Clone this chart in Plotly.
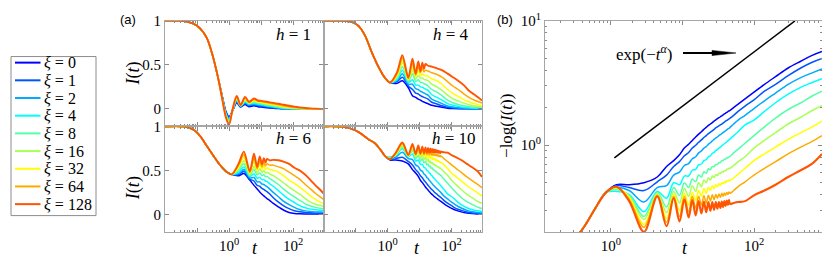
import math
import plotly.graph_objects as go

W, H = 830, 277

# ---------------- data ----------------
XI = [0, 1, 2, 4, 8, 16, 32, 64, 128]
COLORS = ['#0000ff', '#0055ff', '#00aaff', '#00ffff', '#55ffaa',
          '#aaff55', '#ffff00', '#ffaa00', '#ff5500']

# h = 1 : I(t).  The first values are common to every xi; rows below give one value per xi
T_H1 = [0.01, 0.03, 0.05, 0.08, 0.12, 0.2, 0.3, 0.45,
        0.6, 0.8, 1.0, 1.3, 1.74, 2.3, 3.16, 4.2, 6.0, 8.0, 10, 15, 24, 35,
        50, 75, 110, 160, 240, 350, 500, 890]
I_H1_SHARED = [1.0, 1.0, 0.99, 0.965, 0.92, 0.81, 0.62, 0.36]
I_H1_ROWS = [
    [0.16, 0.155, 0.15, 0.145, 0.14, 0.14, 0.135, 0.13, 0.13],
    [-0.03, -0.04, -0.05, -0.06, -0.07, -0.08, -0.085, -0.09, -0.10],
    [-0.09, -0.10, -0.11, -0.125, -0.14, -0.15, -0.16, -0.17, -0.18],
    [-0.02, -0.018, -0.015, -0.012, -0.01, -0.007, -0.005, -0.002, 0.0],
    [0.07, 0.08, 0.09, 0.10, 0.11, 0.12, 0.13, 0.14, 0.146],
    [0.02, 0.025, 0.03, 0.033, 0.036, 0.038, 0.04, 0.042, 0.044],
    [0.05, 0.06, 0.07, 0.08, 0.09, 0.10, 0.11, 0.125, 0.135],
    [0.025, 0.035, 0.045, 0.055, 0.06, 0.065, 0.07, 0.075, 0.08],
    [0.035, 0.045, 0.055, 0.065, 0.075, 0.085, 0.095, 0.105, 0.117],
    [0.025, 0.035, 0.045, 0.055, 0.065, 0.075, 0.08, 0.09, 0.095],
    [0.02, 0.03, 0.04, 0.05, 0.058, 0.066, 0.074, 0.082, 0.09],
    [0.012, 0.02, 0.028, 0.036, 0.045, 0.053, 0.062, 0.071, 0.08],
    [0.006, 0.011, 0.017, 0.024, 0.032, 0.04, 0.049, 0.058, 0.068],
    [0.003, 0.006, 0.01, 0.015, 0.021, 0.028, 0.037, 0.047, 0.058],
    [0.001, 0.003, 0.005, 0.008, 0.013, 0.019, 0.026, 0.036, 0.047],
    [0.0, 0.001, 0.002, 0.004, 0.007, 0.011, 0.017, 0.025, 0.035],
    [0.0, 0.0, 0.001, 0.002, 0.003, 0.006, 0.01, 0.016, 0.025],
    [0.0, 0.0, 0.0, 0.001, 0.002, 0.003, 0.006, 0.01, 0.017],
    [0.0, 0.0, 0.0, 0.0, 0.001, 0.002, 0.003, 0.005, 0.01],
    [0.0, 0.0, 0.0, 0.0, 0.0, 0.001, 0.001, 0.002, 0.005],
    [0.0, 0.0, 0.0, 0.0, 0.0, 0.0, 0.0, 0.001, 0.002],
    [0.0, 0.0, 0.0, 0.0, 0.0, 0.0, 0.0, 0.0, 0.0],
]

# h = 4 : I(t)
T_H4 = [0.01, 0.04, 0.08, 0.126, 0.2, 0.316, 0.5, 0.8,
        1.2, 2.0, 2.9, 4.45, 6.0, 7.55, 9.1, 10.65, 12.2, 13.75, 15.3, 18.4,
        24, 35, 50, 75, 110, 160, 240, 350, 500, 700, 890]
I_H4_SHARED = [1.0, 1.0, 0.985, 0.94, 0.83, 0.65, 0.49, 0.36]
I_H4_ROWS = [
    [0.30, 0.30, 0.30, 0.30, 0.30, 0.30, 0.30, 0.30, 0.30],
    [0.29, 0.31, 0.32, 0.34, 0.35, 0.37, 0.38, 0.40, 0.42],
    [0.32, 0.36, 0.40, 0.44, 0.48, 0.52, 0.55, 0.58, 0.61],
    [0.24, 0.26, 0.28, 0.30, 0.31, 0.32, 0.33, 0.345, 0.355],
    [0.15, 0.22, 0.28, 0.33, 0.40, 0.44, 0.48, 0.52, 0.57],
    [0.13, 0.18, 0.23, 0.27, 0.31, 0.34, 0.37, 0.385, 0.40],
    [0.11, 0.17, 0.22, 0.27, 0.33, 0.38, 0.43, 0.48, 0.54],
    [0.10, 0.15, 0.20, 0.25, 0.30, 0.35, 0.38, 0.41, 0.43],
    [0.085, 0.14, 0.19, 0.245, 0.30, 0.35, 0.40, 0.46, 0.525],
    [0.078, 0.13, 0.18, 0.235, 0.285, 0.335, 0.38, 0.42, 0.455],
    [0.07, 0.125, 0.17, 0.225, 0.28, 0.33, 0.38, 0.44, 0.51],
    [0.058, 0.11, 0.155, 0.21, 0.26, 0.32, 0.37, 0.43, 0.49],
    [0.04, 0.075, 0.11, 0.16, 0.22, 0.28, 0.34, 0.41, 0.48],
    [0.03, 0.055, 0.085, 0.13, 0.19, 0.25, 0.32, 0.39, 0.46],
    [0.018, 0.035, 0.06, 0.10, 0.15, 0.21, 0.28, 0.36, 0.44],
    [0.008, 0.018, 0.032, 0.06, 0.10, 0.155, 0.22, 0.31, 0.40],
    [0.004, 0.01, 0.02, 0.04, 0.07, 0.115, 0.175, 0.26, 0.36],
    [0.002, 0.006, 0.012, 0.028, 0.05, 0.09, 0.14, 0.22, 0.32],
    [0.001, 0.004, 0.008, 0.018, 0.035, 0.065, 0.105, 0.17, 0.27],
    [0.0, 0.002, 0.005, 0.012, 0.025, 0.047, 0.08, 0.13, 0.205],
    [0.0, 0.001, 0.003, 0.008, 0.018, 0.034, 0.06, 0.10, 0.165],
    [0.0, 0.001, 0.002, 0.006, 0.015, 0.028, 0.045, 0.08, 0.125],
    [0.0, 0.0, 0.002, 0.005, 0.012, 0.022, 0.036, 0.065, 0.095],
]

# h = 6 : I(t)
T_H6 = [0.01, 0.04, 0.08, 0.126, 0.2, 0.32, 0.5, 0.8,
        1.2, 2.0, 2.9, 4.45, 6.0, 7.55, 9.1, 10.65, 12.2, 13.75, 15.3, 18.4,
        24, 35, 50, 75, 110, 160, 240, 350, 500, 700, 890]
I_H6_SHARED = [1.0, 0.998, 0.96, 0.89, 0.78, 0.67, 0.57, 0.49]
I_H6_ROWS = [
    [0.455, 0.455, 0.455, 0.455, 0.455, 0.455, 0.455, 0.455, 0.455],
    [0.44, 0.45, 0.465, 0.48, 0.50, 0.52, 0.54, 0.56, 0.58],
    [0.465, 0.49, 0.51, 0.54, 0.575, 0.61, 0.65, 0.68, 0.714],
    [0.39, 0.40, 0.415, 0.43, 0.44, 0.45, 0.47, 0.48, 0.49],
    [0.33, 0.38, 0.42, 0.46, 0.51, 0.55, 0.60, 0.64, 0.69],
    [0.29, 0.33, 0.37, 0.41, 0.45, 0.47, 0.50, 0.52, 0.54],
    [0.255, 0.32, 0.37, 0.42, 0.47, 0.52, 0.57, 0.61, 0.66],
    [0.23, 0.295, 0.345, 0.395, 0.44, 0.48, 0.51, 0.54, 0.57],
    [0.21, 0.285, 0.34, 0.395, 0.45, 0.50, 0.55, 0.59, 0.64],
    [0.195, 0.27, 0.325, 0.38, 0.43, 0.47, 0.51, 0.55, 0.59],
    [0.18, 0.26, 0.315, 0.375, 0.43, 0.48, 0.53, 0.575, 0.63],
    [0.16, 0.235, 0.29, 0.35, 0.41, 0.46, 0.51, 0.56, 0.615],
    [0.125, 0.19, 0.25, 0.32, 0.38, 0.44, 0.50, 0.56, 0.62],
    [0.085, 0.14, 0.20, 0.27, 0.34, 0.40, 0.48, 0.54, 0.615],
    [0.05, 0.10, 0.15, 0.22, 0.29, 0.36, 0.44, 0.52, 0.60],
    [0.022, 0.065, 0.11, 0.17, 0.24, 0.31, 0.39, 0.48, 0.575],
    [0.01, 0.042, 0.08, 0.135, 0.20, 0.27, 0.35, 0.44, 0.53],
    [0.006, 0.03, 0.055, 0.10, 0.16, 0.23, 0.31, 0.40, 0.50],
    [0.005, 0.022, 0.04, 0.075, 0.12, 0.18, 0.26, 0.34, 0.45],
    [0.005, 0.018, 0.032, 0.06, 0.095, 0.14, 0.21, 0.29, 0.39],
    [0.005, 0.016, 0.028, 0.052, 0.08, 0.115, 0.17, 0.24, 0.33],
    [0.005, 0.015, 0.026, 0.047, 0.07, 0.10, 0.14, 0.20, 0.28],
    [0.005, 0.015, 0.025, 0.045, 0.065, 0.09, 0.13, 0.17, 0.24],
]

# h = 10 : early I(t) common to all xi, later part given as -log I(t) per xi (panel b)
T_H10 = [0.01, 0.04, 0.1, 0.16, 0.25, 0.4, 0.6, 0.85,
         1.2, 1.8, 2.9, 4.45, 6.0, 7.55, 9.1, 10.65, 12.2, 13.75, 15.3, 16.85,
         18.4, 19.95, 21.5, 23.05, 24.6, 26.15, 27.7, 29.25, 30.8, 32.35, 33.9,
         35.45, 37.0, 38.55, 40.1, 41.65, 43.2, 44.75, 46.3,
         52, 60, 75, 100, 140, 200, 300, 450, 650, 890]
I_H10_SHARED = [1.0, 0.995, 0.955, 0.91, 0.855, 0.81, 0.735, 0.66]
NEGLOG_H10 = {
    0: [0.481, 0.481, 0.499, 0.555, 0.675, 0.752, 0.837, 0.948, 1.018, 1.093, 1.164,
        1.228, 1.284, 1.342, 1.391, 1.442, 1.481, 1.521, 1.563, 1.597, 1.634, 1.664,
        1.694, 1.725, 1.755, 1.784, 1.809, 1.836, 1.862, 1.886, 1.910,
        2.008, 2.138, 2.359, 2.673, 3.085, 3.559, 4.180, 4.737, 5.274, 5.665],
    1: [0.473, 0.456, 0.432, 0.508, 0.575, 0.675, 0.738, 0.822, 0.875, 0.948, 1.0,
        1.055, 1.103, 1.153, 1.195, 1.239, 1.272, 1.307, 1.342, 1.379, 1.404, 1.429,
        1.455, 1.481, 1.508, 1.535, 1.563, 1.583, 1.605, 1.626, 1.649,
        1.740, 1.869, 2.062, 2.317, 2.721, 3.085, 3.623, 4.180, 4.653, 4.998],
    2: [0.456, 0.432, 0.349, 0.456, 0.473, 0.575, 0.607, 0.687, 0.712, 0.779, 0.807,
        0.867, 0.898, 0.948, 0.974, 1.018, 1.046, 1.084, 1.113, 1.143, 1.164, 1.195,
        1.217, 1.239, 1.261, 1.284, 1.307, 1.330, 1.354, 1.366, 1.391,
        1.481, 1.591, 1.740, 1.972, 2.276, 2.626, 3.085, 3.496, 3.822, 4.106],
    4: [0.425, 0.402, 0.292, 0.425, 0.375, 0.499, 0.481, 0.565, 0.565, 0.629, 0.640,
        0.694, 0.706, 0.752, 0.765, 0.807, 0.822, 0.859, 0.875, 0.906, 0.923, 0.948,
        0.965, 0.991, 1.009, 1.027, 1.046, 1.064, 1.084, 1.103, 1.123,
        1.195, 1.284, 1.455, 1.591, 1.869, 2.196, 2.579, 2.923, 3.197, 3.434],
    8: [0.440, 0.395, 0.267, 0.417, 0.319, 0.456, 0.395, 0.499, 0.456, 0.535, 0.508,
        0.575, 0.555, 0.612, 0.596, 0.646, 0.634, 0.675, 0.669, 0.700, 0.700, 0.725,
        0.725, 0.752, 0.752, 0.772, 0.772, 0.793, 0.793, 0.807, 0.814,
        0.867, 0.931, 1.036, 1.195, 1.404, 1.649, 1.937, 2.196, 2.489, 2.721],
    16: [0.448, 0.388, 0.253, 0.410, 0.287, 0.425, 0.343, 0.448, 0.388, 0.473, 0.425,
         0.499, 0.464, 0.526, 0.499, 0.545, 0.526, 0.565, 0.550, 0.580, 0.570, 0.596,
         0.591, 0.612, 0.607, 0.623, 0.623, 0.640, 0.640, 0.652, 0.652,
         0.687, 0.738, 0.807, 0.948, 1.093, 1.261, 1.481, 1.679, 1.903, 2.081],
    32: [0.456, 0.381, 0.231, 0.402, 0.258, 0.402, 0.297, 0.410, 0.331, 0.417, 0.362,
         0.432, 0.388, 0.448, 0.410, 0.460, 0.432, 0.473, 0.448, 0.481, 0.464, 0.490,
         0.477, 0.499, 0.490, 0.508, 0.499, 0.517, 0.512, 0.526, 0.521,
         0.545, 0.585, 0.652, 0.752, 0.852, 0.965, 1.113, 1.261, 1.404, 1.563],
    64: [0.464, 0.368, 0.219, 0.395, 0.240, 0.388, 0.267, 0.388, 0.292, 0.388, 0.313,
         0.388, 0.331, 0.392, 0.343, 0.395, 0.355, 0.399, 0.365, 0.402, 0.375, 0.406,
         0.381, 0.410, 0.388, 0.413, 0.395, 0.417, 0.402, 0.421, 0.410,
         0.432, 0.464, 0.508, 0.575, 0.652, 0.738, 0.852, 0.965, 1.074, 1.195],
    128: [0.464, 0.355, 0.201, 0.388, 0.223, 0.375, 0.244, 0.368, 0.262, 0.362, 0.272,
          0.355, 0.282, 0.352, 0.289, 0.349, 0.297, 0.349, 0.302, 0.349, 0.308, 0.349,
          0.313, 0.352, 0.319, 0.355, 0.325, 0.358, 0.331, 0.362, 0.337,
          0.343, 0.349, 0.355, 0.395, 0.432, 0.481, 0.555, 0.629, 0.712, 0.852],
}

# reference power law line in panel (b)
REF_T = [1.12, 373]
REF_V = [0.79, 10.0]

# ---------------- helpers ----------------
X_OFF, Y_OFF = 8, 16   # page offset of the figure inside the browser window


def px(x):
    return (x - X_OFF) / W


def py(y):
    return 1 - (y - Y_OFF) / H


def table_series(shared, rows, k):
    return list(shared) + [r[k] for r in rows]


SERIF = 'Liberation Serif'
SANS = 'Liberation Sans'
AXC = '#a6a6a6'
TKC = '#8a8a8a'

fig = go.Figure()

panels = [
    ('x', 'y', T_H1, I_H1_SHARED, I_H1_ROWS),
    ('x2', 'y2', T_H4, I_H4_SHARED, I_H4_ROWS),
    ('x3', 'y3', T_H6, I_H6_SHARED, I_H6_ROWS),
]
for xa, ya, T, shared, rows in panels:
    for k, xi in enumerate(XI):
        fig.add_trace(go.Scatter(
            x=T, y=table_series(shared, rows, k), mode='lines',
            xaxis=xa, yaxis=ya, showlegend=False,
            line=dict(color=COLORS[k], width=1.9 if xi == 128 else 1.5,
                      shape='spline', smoothing=0.85),
            name='ξ = %d' % xi))

# h = 10 panel (a) and panel (b)
for k, xi in enumerate(XI):
    neglog = NEGLOG_H10[xi]
    I_full = list(I_H10_SHARED) + [math.exp(-v) for v in neglog]
    fig.add_trace(go.Scatter(
        x=T_H10, y=I_full, mode='lines', xaxis='x4', yaxis='y4', showlegend=False,
        line=dict(color=COLORS[k], width=1.9 if xi == 128 else 1.5,
                  shape='spline', smoothing=0.85)))
for k, xi in enumerate(XI):
    neglog = NEGLOG_H10[xi]
    V_full = [(-math.log(v) if v < 1 else None) for v in I_H10_SHARED] + list(neglog)
    fig.add_trace(go.Scatter(
        x=T_H10, y=V_full, mode='lines', xaxis='x5', yaxis='y5', showlegend=False,
        line=dict(color=COLORS[k], width=2.1 if xi == 128 else 1.5,
                  shape='spline', smoothing=1.0)))
fig.add_trace(go.Scatter(x=REF_T, y=REF_V, mode='lines', xaxis='x5', yaxis='y5',
                         showlegend=False, line=dict(color='black', width=1.5)))

# ---------------- axes ----------------
def minor_log(lo, hi):
    vals = []
    for e in range(lo, hi + 1):
        for m in range(2, 10):
            vals.append(m * 10 ** e)
    return vals


tickfont = dict(family=SERIF, size=15, color='black')
xa_common = dict(type='log', range=[-2, 2.95], showgrid=False, zeroline=False,
                 showline=True, linecolor=AXC, linewidth=1.2, mirror='allticks',
                 ticks='inside', ticklen=4, tickcolor=TKC, tickwidth=1,
                 tickvals=[0.01, 0.1, 1, 10, 100],
                 ticktext=['', '', '10<sup>0</sup>', '', '10<sup>2</sup>'],
                 minor=dict(ticks='inside', ticklen=2, tickcolor=TKC,
                            tickvals=minor_log(-2, 2)),
                 tickfont=tickfont)
ya_common = dict(range=[-0.2, 1.0], showgrid=False, zeroline=False,
                 showline=True, linecolor=AXC, linewidth=1.2, mirror='allticks',
                 ticks='inside', ticklen=4, tickcolor=TKC,
                 tickvals=[0, 0.5, 1], ticktext=['0', '0.5', '1'], tickfont=tickfont)

XL, XM, XR = 165, 323.5, 482
YT, YM, YB = 19, 128.5, 238

layout_axes = {}
layout_axes['xaxis'] = dict(xa_common, domain=[px(XL), px(XM)], anchor='y', showticklabels=False)
layout_axes['yaxis'] = dict(ya_common, domain=[py(YM), py(YT)], anchor='x')
layout_axes['xaxis2'] = dict(xa_common, domain=[px(XM), px(XR)], anchor='y2', showticklabels=False)
layout_axes['yaxis2'] = dict(ya_common, domain=[py(YM), py(YT)], anchor='x2', showticklabels=False)
layout_axes['xaxis3'] = dict(xa_common, domain=[px(XL), px(XM)], anchor='y3')
layout_axes['yaxis3'] = dict(ya_common, domain=[py(YB), py(YM)], anchor='x3')
layout_axes['xaxis4'] = dict(xa_common, domain=[px(XM), px(XR)], anchor='y4')
layout_axes['yaxis4'] = dict(ya_common, domain=[py(YB), py(YM)], anchor='x4', showticklabels=False)
layout_axes['xaxis5'] = dict(xa_common, domain=[px(545), px(822)], anchor='y5',
                             range=[-0.92, 2.95], tickvals=[1, 10, 100],
                             ticktext=['10<sup>0</sup>', '', '10<sup>2</sup>'],
                             minor=dict(ticks='inside', ticklen=2, tickcolor=TKC,
                                        tickvals=minor_log(-1, 2)))
layout_axes['yaxis5'] = dict(type='log', range=[-0.698, 1.0], domain=[py(YB), py(YT)],
                             anchor='x5', showgrid=False, zeroline=False,
                             showline=True, linecolor=AXC, linewidth=1.2, mirror='allticks',
                             ticks='inside', ticklen=4, tickcolor=TKC,
                             tickvals=[1, 10], ticktext=['10<sup>0</sup>', '10<sup>1</sup>'],
                             minor=dict(ticks='inside', ticklen=2, tickcolor=TKC,
                                        tickvals=minor_log(-1, 0)),
                             tickfont=tickfont)

# ---------------- annotations ----------------
ann = []


def text(x, y, s, size=17, family=SERIF, xanchor='center', angle=0):
    ann.append(dict(x=px(x), y=py(y), xref='paper', yref='paper', text=s,
                    showarrow=False, xanchor=xanchor, yanchor='middle',
                    textangle=angle, font=dict(family=family, size=size, color='black')))


text(128, 18, '(a)', size=13, family=SANS)
text(505, 18, '(b)', size=13, family=SANS)
text(133, 73.5, '<i>I</i>(<i>t</i>)', size=18, angle=-90)
text(133, 192.5, '<i>I</i>(<i>t</i>)', size=18, angle=-90)
text(507, 128, '−log(<i>I</i>(<i>t</i>))', size=17, angle=-90)
text(255, 255, '<i>t</i>', size=18)
text(416.5, 255, '<i>t</i>', size=18)
text(685, 255, '<i>t</i>', size=18)
text(313, 33, '<i>h</i> = 1', size=17, xanchor='right')
text(471, 33, '<i>h</i> = 4', size=17, xanchor='right')
text(313, 141, '<i>h</i> = 6', size=17, xanchor='right')
text(478, 141, '<i>h</i> = 10', size=17, xanchor='right')
text(643.5, 52, 'exp(−<i>t</i><sup><i>α</i></sup>)', size=17)

shapes = []
# legend box
shapes.append(dict(type='rect', xref='paper', yref='paper', x0=px(11), x1=px(96),
                   y0=py(221), y1=py(56), line=dict(color='#8c8c8c', width=1),
                   fillcolor='white', layer='below'))
for k, xi in enumerate(XI):
    yy = 62.3 + 18.35 * k
    shapes.append(dict(type='line', xref='paper', yref='paper', x0=px(15), x1=px(40.5),
                       y0=py(yy), y1=py(yy), line=dict(color=COLORS[k], width=2)))
    text(42, yy, '<i>ξ</i> = %d' % xi, size=16, xanchor='left')

# arrow next to exp label
shapes.append(dict(type='line', xref='paper', yref='paper', x0=px(683), x1=px(716),
                   y0=py(52.3), y1=py(52.3), line=dict(color='black', width=2)))
shapes.append(dict(type='path', xref='paper', yref='paper',
                   path='M %f %f L %f %f L %f %f Z' % (px(712), py(49.6), px(736), py(52.3),
                                                      px(712), py(55.0)),
                   fillcolor='black', line=dict(color='black', width=0.5)))

fig.update_layout(width=W, height=H, margin=dict(l=0, r=0, t=0, b=0),
                  paper_bgcolor='white', plot_bgcolor='white', showlegend=False,
                  annotations=ann, shapes=shapes, **layout_axes)

fig.write_html('out.html')
